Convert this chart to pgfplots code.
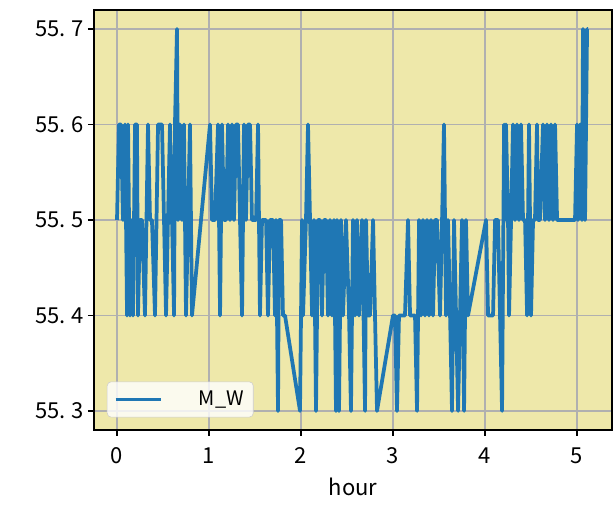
\documentclass[border=0pt]{standalone}
\usepackage{pgfplots}
\pgfplotsset{compat=1.18}
\usepackage{fontspec}
\setmainfont{Noto Sans CJK SC}
\definecolor{bg}{HTML}{EEE8AA}
\definecolor{tabblue}{HTML}{1F77B4}
\begin{document}
\begin{tikzpicture}
\begin{axis}[
  scale only axis, width=388.5pt, height=315pt,
  xmin=-0.25, xmax=5.38, ymin=55.28, ymax=55.72,
  axis background/.style={fill=bg},
  grid=major, grid style={color=black!31, line width=1.1pt},
  axis line style={line width=1pt},
  tick style={black, line width=1pt}, major tick length=4.5pt,
  tick align=outside, xtick pos=bottom, ytick pos=left,
  xtick={0,1,2,3,4,5},
  ytick={55.3,55.4,55.5,55.6,55.7},
  yticklabels={55.\hspace{4pt}3,55.\hspace{4pt}4,55.\hspace{4pt}5,55.\hspace{4pt}6,55.\hspace{4pt}7},
  /pgf/number format/assume math mode=true,
  ticklabel style={font=\fontsize{16.5}{19}\selectfont},
  xticklabel style={yshift=-5pt},
  xlabel={hour}, xlabel style={font=\fontsize{16.5}{19}\selectfont, yshift=-4pt},
  legend style={at={(0.025,0.03)}, anchor=south west, draw=black!20, rounded corners=3pt,
    fill=white, fill opacity=0.8, text opacity=1, font=\fontsize{15}{18}\selectfont,
    inner xsep=5pt, inner ysep=5pt},
  legend image code/.code={\draw[#1, line width=2.8pt] (0pt,0pt) -- (34pt,0pt);},
]
\addplot[tabblue, line width=2.8pt, line join=round] coordinates {
(0.000,55.5) (0.022,55.6) (0.043,55.6) (0.065,55.5) (0.087,55.6) (0.109,55.4)
(0.120,55.6) (0.141,55.4) (0.152,55.5) (0.174,55.4) (0.196,55.6) (0.217,55.6)
(0.228,55.4) (0.250,55.5) (0.272,55.5) (0.304,55.4) (0.337,55.6) (0.359,55.5)
(0.380,55.5) (0.413,55.4) (0.446,55.6) (0.467,55.6) (0.489,55.6) (0.511,55.5)
(0.533,55.4) (0.554,55.5) (0.576,55.6) (0.598,55.5) (0.620,55.4) (0.630,55.6)
(0.652,55.7) (0.663,55.5) (0.685,55.6) (0.707,55.5) (0.728,55.6) (0.750,55.4)
(0.772,55.5) (0.793,55.6) (0.815,55.4) (1.011,55.6) (1.033,55.5) (1.065,55.5)
(1.098,55.6) (1.120,55.4) (1.141,55.6) (1.163,55.5) (1.185,55.5) (1.207,55.6)
(1.228,55.5) (1.250,55.6) (1.272,55.5) (1.293,55.6) (1.315,55.6) (1.337,55.5)
(1.359,55.4) (1.380,55.6) (1.402,55.5) (1.424,55.6) (1.446,55.6) (1.467,55.5)
(1.500,55.5) (1.511,55.5) (1.533,55.6) (1.543,55.5) (1.554,55.4) (1.576,55.5)
(1.598,55.5) (1.620,55.5) (1.641,55.4) (1.663,55.5) (1.685,55.5) (1.696,55.5)
(1.717,55.4) (1.728,55.5) (1.750,55.3) (1.761,55.5) (1.783,55.5) (1.804,55.4)
(1.826,55.4) (1.989,55.3) (2.011,55.5) (2.022,55.4) (2.054,55.5) (2.076,55.6)
(2.120,55.4) (2.141,55.5) (2.163,55.3) (2.185,55.5) (2.207,55.5) (2.228,55.4)
(2.250,55.5) (2.272,55.5) (2.293,55.4) (2.315,55.5) (2.337,55.4) (2.359,55.5)
(2.380,55.3) (2.391,55.5) (2.413,55.3) (2.435,55.5) (2.457,55.4) (2.489,55.5)
(2.522,55.4) (2.543,55.3) (2.565,55.5) (2.587,55.4) (2.609,55.5) (2.630,55.4)
(2.663,55.5) (2.696,55.3) (2.707,55.5) (2.728,55.4) (2.750,55.4) (2.783,55.5)
(2.804,55.4) (2.826,55.3) (3.000,55.4) (3.022,55.4) (3.043,55.3) (3.065,55.4)
(3.098,55.4) (3.130,55.4) (3.163,55.5) (3.185,55.4) (3.217,55.4) (3.239,55.4)
(3.261,55.3) (3.283,55.5) (3.304,55.4) (3.326,55.5) (3.348,55.4) (3.370,55.5)
(3.391,55.4) (3.413,55.5) (3.435,55.4) (3.457,55.5) (3.478,55.5) (3.511,55.4)
(3.533,55.5) (3.554,55.6) (3.576,55.4) (3.598,55.5) (3.620,55.4) (3.641,55.3)
(3.663,55.5) (3.685,55.4) (3.707,55.3) (3.728,55.4) (3.750,55.5) (3.772,55.3)
(3.793,55.5) (3.815,55.4) (4.011,55.5) (4.033,55.4) (4.065,55.4) (4.087,55.4)
(4.109,55.5) (4.141,55.5) (4.185,55.3) (4.207,55.6) (4.217,55.5) (4.228,55.6)
(4.250,55.5) (4.261,55.4) (4.283,55.5) (4.304,55.6) (4.326,55.5) (4.348,55.6)
(4.370,55.5) (4.391,55.6) (4.413,55.5) (4.435,55.5) (4.457,55.4) (4.478,55.6)
(4.500,55.4) (4.522,55.5) (4.543,55.5) (4.565,55.6) (4.576,55.5) (4.598,55.5)
(4.630,55.6) (4.652,55.5) (4.674,55.6) (4.696,55.5) (4.717,55.6) (4.739,55.5)
(4.761,55.6) (4.783,55.5) (4.815,55.5) (4.870,55.5) (4.924,55.5) (4.978,55.5)
(5.000,55.6) (5.011,55.5) (5.033,55.6) (5.054,55.5) (5.065,55.7) (5.087,55.5)
(5.109,55.7) (5.120,55.7)
};
\addlegendentry{\hspace{25pt}M\_W}
\end{axis}
\pgfresetboundingbox
\path ([xshift=-70.5pt,yshift=-63pt]current axis.south west) rectangle ([xshift=0.75pt,yshift=7.5pt]current axis.north east);
\end{tikzpicture}
\end{document}
